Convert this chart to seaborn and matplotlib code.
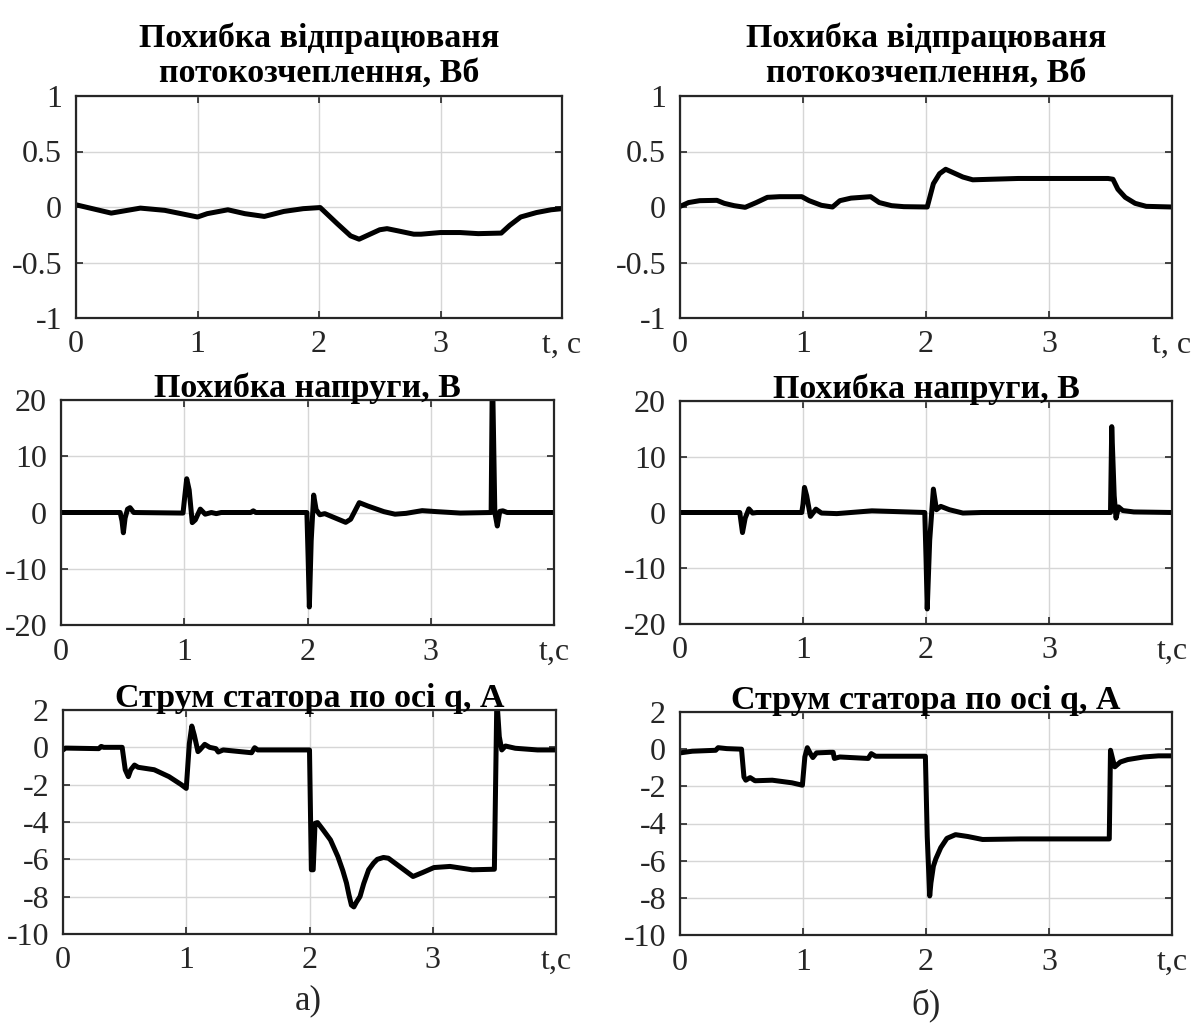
import numpy as np
import pandas as pd
import matplotlib
matplotlib.use("Agg")
import matplotlib.pyplot as plt
import seaborn as sns

# ---------------- data ----------------
# Flux-linkage error, case a)
flux_a_t = [0, 0.29, 0.53, 0.73, 1.0, 1.08, 1.25, 1.39, 1.55, 1.71, 1.87, 2.01, 2.15, 2.26,
            2.33, 2.40, 2.50, 2.56, 2.65, 2.78, 2.84, 3.0, 3.16, 3.31, 3.50, 3.57, 3.66,
            3.79, 3.91, 4.0]
flux_a_y = [0.02, -0.055, -0.01, -0.03, -0.09, -0.06, -0.025, -0.06, -0.085, -0.04, -0.015,
            -0.005, -0.15, -0.26, -0.29, -0.255, -0.205, -0.195, -0.215, -0.245, -0.245,
            -0.23, -0.23, -0.24, -0.235, -0.165, -0.09, -0.05, -0.025, -0.015]

# Flux-linkage error, case b)
flux_b_t = [0, 0.07, 0.16, 0.30, 0.36, 0.44, 0.53, 0.62, 0.71, 0.81, 0.99, 1.05, 1.15, 1.24,
            1.30, 1.39, 1.55, 1.62, 1.72, 1.82, 2.01, 2.06, 2.11, 2.16, 2.22, 2.30, 2.38,
            2.53, 2.75, 3.48, 3.52, 3.56, 3.62, 3.70, 3.79, 4.0]
flux_b_y = [0.005, 0.04, 0.057, 0.06, 0.033, 0.012, -0.003, 0.04, 0.087, 0.093, 0.093, 0.057,
            0.015, 0.0, 0.057, 0.08, 0.093, 0.04, 0.012, 0.003, 0.0, 0.21, 0.30, 0.34, 0.31,
            0.27, 0.245, 0.25, 0.257, 0.257, 0.25, 0.16, 0.087, 0.033, 0.006, 0.0]

# Voltage error, case a)
volt_a_t = [0, 0.48, 0.495, 0.506, 0.52, 0.54, 0.56, 0.59, 0.99, 1.005, 1.02, 1.04, 1.065,
            1.09, 1.13, 1.17, 1.22, 1.26, 1.30, 1.54, 1.56, 1.58, 1.995, 2.005, 2.015, 2.03,
            2.05, 2.07, 2.10, 2.14, 2.31, 2.35, 2.42, 2.49, 2.62, 2.71, 2.80, 2.93, 3.05,
            3.24, 3.49, 3.50, 3.52, 3.54, 3.56, 3.585, 3.62, 4.0]
volt_a_y = [0, 0, -1.5, -3.6, -1.0, 0.6, 0.86, 0, -0.1, 3.0, 6.0, 4.0, -1.8, -1.3, 0.6,
            -0.3, 0, -0.2, 0, 0, 0.3, 0, 0, -8.0, -16.8, -5.0, 3.1, 0.5, -0.4, -0.2, -1.75,
            -1.2, 1.75, 1.15, 0.15, -0.3, -0.15, 0.33, 0.15, -0.1, 0, 26.0, 0, -2.4, 0.2,
            0.3, 0, 0]

# Voltage error, case b)
volt_b_t = [0, 0.486, 0.497, 0.508, 0.53, 0.56, 0.59, 0.625, 0.99, 1.0, 1.012, 1.03, 1.06,
            1.105, 1.15, 1.275, 1.56, 1.99, 2.0, 2.01, 2.03, 2.06, 2.085, 2.12, 2.19, 2.30,
            2.45, 3.50, 3.51, 3.53, 3.545, 3.565, 3.60, 3.69, 4.0]
volt_b_y = [0, 0, -1.8, -3.6, -1.0, 0.65, -0.1, 0, 0, 1.5, 4.5, 3.0, -0.7, 0.6, -0.1, -0.2,
            0.3, 0, -8.0, -17.3, -5.0, 4.2, 0.5, 1.1, 0.5, -0.1, 0, 0, 15.4, 3.0, -1.0, 1.0,
            0.35, 0.1, 0]

# Stator q-axis current, case a)
cur_a_t = [0, 0.02, 0.29, 0.31, 0.33, 0.48, 0.505, 0.53, 0.55, 0.58, 0.61, 0.74, 0.86, 0.96,
           1.0, 1.025, 1.045, 1.065, 1.095, 1.11, 1.15, 1.19, 1.24, 1.26, 1.30, 1.53, 1.555,
           1.58, 2.0, 2.015, 2.03, 2.045, 2.065, 2.11, 2.17, 2.23, 2.27, 2.30, 2.32, 2.34,
           2.36, 2.38, 2.41, 2.44, 2.48, 2.52, 2.55, 2.60, 2.64, 2.73, 2.84, 2.92, 3.01,
           3.14, 3.32, 3.50, 3.52, 3.54, 3.56, 3.59, 3.67, 3.85, 4.0]
cur_a_y = [-0.14, -0.04, -0.07, 0.05, 0, 0, -1.2, -1.57, -1.2, -0.95, -1.07, -1.2, -1.57,
           -2.0, -2.2, 0.2, 1.14, 0.66, -0.23, -0.14, 0.16, 0, -0.07, -0.25, -0.14, -0.29,
           -0.02, -0.14, -0.14, -6.56, -6.56, -4.07, -4.03, -4.42, -4.96, -5.85, -6.6,
           -7.27, -7.9, -8.45, -8.55, -8.3, -7.99, -7.3, -6.56, -6.2, -6.0, -5.9, -5.94,
           -6.38, -6.92, -6.7, -6.44, -6.38, -6.56, -6.53, 2.6, 0.57, -0.14, 0.07, -0.05,
           -0.14, -0.14]

# Stator q-axis current, case b)
cur_b_t = [0, 0.1, 0.29, 0.31, 0.38, 0.50, 0.52, 0.535, 0.57, 0.61, 0.75, 0.91, 0.995,
           1.015, 1.035, 1.06, 1.08, 1.11, 1.22, 1.245, 1.255, 1.30, 1.53, 1.555, 1.59,
           1.995, 2.01, 2.03, 2.04, 2.06, 2.08, 2.12, 2.17, 2.24, 2.34, 2.46, 2.77, 3.49,
           3.50, 3.52, 3.535, 3.58, 3.64, 3.77, 3.89, 4.0]
cur_b_y = [-0.2, -0.11, -0.06, 0.08, 0.03, 0, -1.5, -1.67, -1.53, -1.7, -1.67, -1.81, -1.94,
           -0.42, 0.08, -0.24, -0.45, -0.2, -0.17, -0.17, -0.5, -0.42, -0.5, -0.24, -0.38,
           -0.38, -4.7, -7.9, -7.2, -6.3, -5.9, -5.3, -4.8, -4.6, -4.7, -4.86, -4.83, -4.83,
           -0.06, -0.6, -0.95, -0.69, -0.56, -0.42, -0.36, -0.36]

x_ticks = [0, 1, 2, 3, 4]
x_labels_top = ["0", "1", "2", "3", "t, c"]
x_labels_low = ["0", "1", "2", "3", "t,c"]
flux_ticks = [-1, -0.5, 0, 0.5, 1]
flux_labels = ["-1", "-0.5", "0", "0.5", "1"]
volt_ticks = [-20, -10, 0, 10, 20]
cur_ticks = [-10, -8, -6, -4, -2, 0, 2]

title_flux = "Похибка відпрацюваня\nпотокозчеплення, Вб"
title_volt = "Похибка напруги, В"
title_cur = "Струм статора по осі q, А"
panel_labels = ["а)", "б)"]

# ---------------- figure ----------------
sns.set_theme(style="white")
plt.rcParams["font.family"] = ["Liberation Serif", "DejaVu Serif"]

W, H = 1195, 1028
fig = plt.figure(figsize=(W / 100, H / 100), dpi=100)


def make_ax(l, r, t, b):
    return fig.add_axes([l / W, 1 - b / H, (r - l) / W, (b - t) / H])


panels = [
    (make_ax(76, 562, 96, 318), flux_a_t, flux_a_y, (-1, 1), flux_ticks, flux_labels, x_labels_top, title_flux, 10),
    (make_ax(680, 1172, 96, 318), flux_b_t, flux_b_y, (-1, 1), flux_ticks, flux_labels, x_labels_top, title_flux, 10),
    (make_ax(61, 554, 400, 625), volt_a_t, volt_a_y, (-20, 20), volt_ticks, [str(v) for v in volt_ticks], x_labels_low, title_volt, 2),
    (make_ax(680, 1172, 401, 624), volt_b_t, volt_b_y, (-20, 20), volt_ticks, [str(v) for v in volt_ticks], x_labels_low, title_volt, 2),
    (make_ax(63, 556, 710, 934), cur_a_t, cur_a_y, (-10, 2), cur_ticks, [str(v) for v in cur_ticks], x_labels_low, title_cur, 2),
    (make_ax(680, 1172, 712, 935), cur_b_t, cur_b_y, (-10, 2), cur_ticks, [str(v) for v in cur_ticks], x_labels_low, title_cur, 2),
]

for ax, tt, yy, ylim, yt, ytl, xtl, title, pad in panels:
    df = pd.DataFrame({"t": tt, "y": yy})
    sns.lineplot(data=df, x="t", y="y", ax=ax, color="black", linewidth=3.6,
                 estimator=None, sort=False, solid_joinstyle="round")
    ax.set_xlim(0, 4)
    ax.set_ylim(*ylim)
    ax.set_xticks(x_ticks)
    ax.set_xticklabels(xtl)
    ax.set_yticks(yt)
    ax.set_yticklabels(ytl)
    ax.set_xlabel("")
    ax.set_ylabel("")
    ax.grid(True, color="#d6d6d6", linewidth=1.0)
    ax.set_axisbelow(True)
    ax.tick_params(direction="in", length=5, width=1.2, colors="#262626",
                   labelsize=23, labelcolor="#262626", top=True, right=True,
                   bottom=True, left=True)
    ax.tick_params(axis="x", pad=9)
    ax.tick_params(axis="y", pad=10)
    for s in ax.spines.values():
        s.set_color("#262626")
        s.set_linewidth(1.6)
        s.set_visible(True)
    ax.set_title(title, fontsize=24.5, fontweight="bold", pad=pad, linespacing=1.17,
                 color="black")

fig.text(308 / W, 1 - 1001 / H, panel_labels[0], fontsize=25, ha="center", va="center")
fig.text(926 / W, 1 - 1005 / H, panel_labels[1], fontsize=25, ha="center", va="center")

fig.savefig("out.png", dpi=100, facecolor="white")
